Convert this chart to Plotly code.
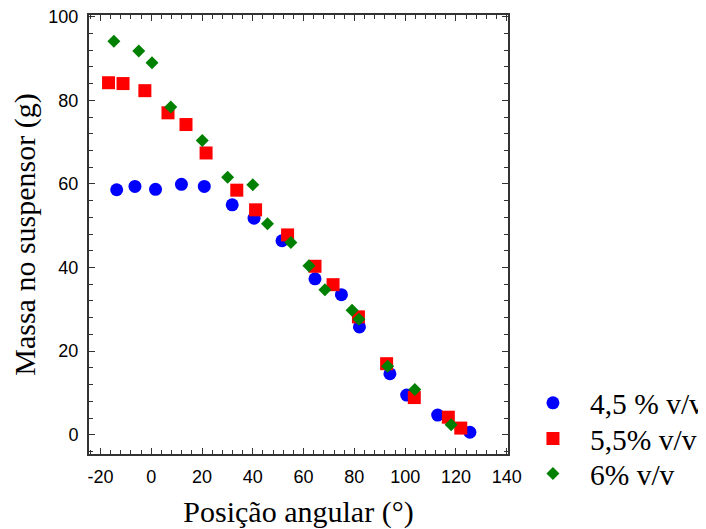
import plotly.graph_objects as go

# 4,5 % v/v
x_45 = [-13.6, -6.4, 1.7, 11.9, 20.9, 31.9, 40.5, 51.5, 64.5, 74.9, 82.0, 94.0, 100.6, 112.8, 125.5]
y_45 = [58.6, 59.4, 58.7, 59.9, 59.4, 55.0, 51.8, 46.4, 37.3, 33.5, 25.8, 14.6, 9.5, 4.7, 0.6]

# 5,5% v/v
x_55 = [-16.8, -11.1, -2.5, 6.6, 13.7, 21.6, 33.7, 41.1, 53.7, 64.5, 71.6, 81.6, 92.7, 103.6, 117.0, 121.9]
y_55 = [84.2, 84.0, 82.3, 77.0, 74.2, 67.4, 58.5, 53.8, 47.8, 40.3, 35.9, 28.2, 17.0, 8.9, 4.2, 1.6]

# 6% v/v
x_6 = [-14.7, -4.9, 0.3, 7.7, 20.1, 30.1, 40.0, 45.8, 55.0, 62.1, 68.4, 79.1, 81.8, 93.1, 103.8, 118.1]
y_6 = [94.1, 91.8, 89.0, 78.4, 70.4, 61.6, 59.8, 50.5, 46.0, 40.4, 34.7, 29.8, 27.6, 16.4, 10.8, 2.4]

series_names = ["4,5 % v/v", "5,5% v/v", "6% v/v"]
x_ticks = [-20, 0, 20, 40, 60, 80, 100, 120, 140]
y_ticks = [0, 20, 40, 60, 80, 100]

fig = go.Figure()
fig.add_trace(go.Scatter(x=x_45, y=y_45, mode="markers", name=series_names[0], legend="legend",
                         marker=dict(symbol="circle", size=13, color="#0000FF", line=dict(width=0))))
fig.add_trace(go.Scatter(x=x_55, y=y_55, mode="markers", name=series_names[1], legend="legend2",
                         marker=dict(symbol="square", size=13, color="#FF0000", line=dict(width=0))))
fig.add_trace(go.Scatter(x=x_6, y=y_6, mode="markers", name=series_names[2], legend="legend3",
                         marker=dict(symbol="diamond", size=10, color="#008000", line=dict(width=0))))

axis_common = dict(
    showgrid=False, zeroline=False, showline=True, linecolor="#333333", linewidth=2,
    mirror="allticks", ticks="inside", ticklen=6, tickwidth=1, tickcolor="#333333",
    tickfont=dict(family="Liberation Sans, Arial", size=18, color="black"),
    ticklabelstandoff=5, ticklabeloverflow="allow",
)

fig.update_xaxes(
    range=[-24.5, 140.5], tickvals=x_ticks, ticktext=[str(v) for v in x_ticks],
    minor=dict(ticks="inside", ticklen=4, dtick=4, tick0=0, tickcolor="#333333"),
    title=dict(text="Posição angular (°)", font=dict(family="Liberation Serif, Times New Roman", size=30, color="black"),
               standoff=16),
    **axis_common,
)
fig.update_yaxes(
    range=[-4.6, 100.4], tickvals=y_ticks, ticktext=[str(v) for v in y_ticks],
    minor=dict(ticks="inside", ticklen=4, dtick=4, tick0=0, tickcolor="#333333"),
    title=dict(text="Massa no suspensor (g)", font=dict(family="Liberation Serif, Times New Roman", size=30, color="black"),
               standoff=5),
    **axis_common,
)

legend_common = dict(x=1.019, xanchor="left", yanchor="top",
                     font=dict(family="Liberation Serif, Times New Roman", size=29.5, color="black"),
                     itemwidth=64, bgcolor="rgba(0,0,0,0)")

fig.update_layout(
    width=698, height=521,
    margin=dict(l=81, r=198, t=7, b=75, autoexpand=False),
    plot_bgcolor="white", paper_bgcolor="white",
    legend=dict(y=0.175, **legend_common),
    legend2=dict(y=0.094, **legend_common),
    legend3=dict(y=0.014, **legend_common),
    showlegend=True,
)

fig.write_html("out.html")
